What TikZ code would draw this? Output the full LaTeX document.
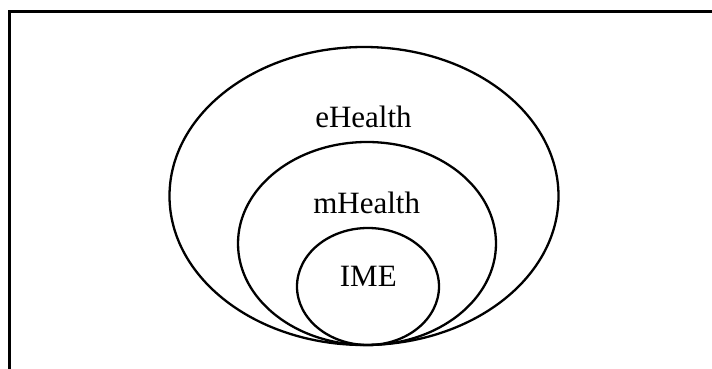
\documentclass[tikz,border=0pt]{standalone}
\usepackage{fontspec}
\setmainfont{Liberation Serif}
\usetikzlibrary{shapes.geometric}
\begin{document}
\begin{tikzpicture}[x=1pt,y=-1pt,
  ring/.style={draw=black,line width=2.3pt,ellipse,inner sep=0pt},
  lbl/.style={anchor=base,inner sep=0pt,font=\fontsize{31}{36}\selectfont}]
\useasboundingbox (0,0) rectangle (712,369);
\coordinate (frameTR) at (712,11.5);
\coordinate (frameTL) at (9.5,11.5);
\coordinate (frameBL) at (9.5,369);
\draw[line width=2.3pt] (frameTR) -- (frameTL) -- (frameBL);
\node[ring,minimum width=389pt,minimum height=298pt] (outer) at (364,196) {};
\node[ring,minimum width=258pt,minimum height=203pt] (middle) at (367,243.5) {};
\node[ring,minimum width=142pt,minimum height=117pt] (inner) at (368,286.5) {};
\node[lbl] (ehealth) at (363.5,127) {eHealth};
\node[lbl] (mhealth) at (366.7,213.5) {mHealth};
\node[lbl] (ime) at (368.3,286) {IME};
\end{tikzpicture}
\end{document}
